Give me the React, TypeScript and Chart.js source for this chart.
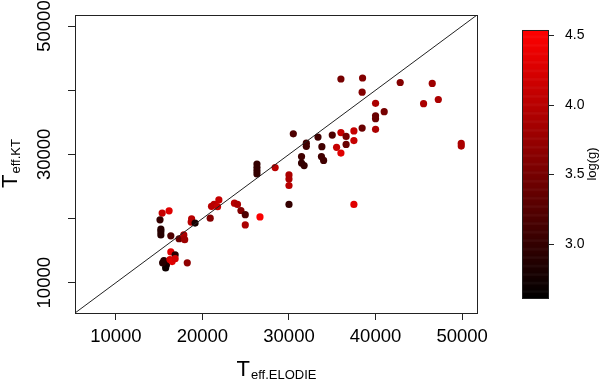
import { useEffect, useRef } from "react";
import { Chart, registerables } from "chart.js";

Chart.register(...registerables);

// ---------- data ----------
const AXIS_MIN = 5280;
const AXIS_MAX = 51720;
const X_TICKS = [10000, 20000, 30000, 40000, 50000];
const Y_TICKS = [10000, 20000, 30000, 40000, 50000];
const Y_TICK_LABELS = ["10000", "", "30000", "", "50000"];
const CBAR_TICKS = [3.0, 3.5, 4.0, 4.5];
const LOGG_MIN = 2.61;
const LOGG_MAX = 4.536;
const CBAR_SCALE_MIN = 2.505;
const CBAR_SCALE_MAX = 4.6435;

const X_TITLE_MAIN = "T";
const X_TITLE_SUB = "eff.ELODIE";
const Y_TITLE_MAIN = "T";
const Y_TITLE_SUB = "eff.KT";
const CBAR_TITLE = "log(g)";

const T_ELODIE = [
  36000, 38500, 38450, 42850, 46550, 45550, 47250, 40000, 41000, 40000,
  40000, 38450, 40000, 37500, 36000, 35000, 36600, 33350, 30500, 32000,
  32000, 33800, 36600, 37500, 35500, 36000, 49900, 49900, 31450, 31450,
  31750, 33750, 34000, 26300, 26300, 26300, 26300, 28400, 30000, 30000,
  30000, 30000, 37500, 26650, 23700, 24050, 24450, 24950, 24950, 20900,
  21050, 21350, 21900, 21750, 18750, 18700, 19150, 15350, 16150, 15100,
  15200, 15200, 15200, 16350, 17300, 17850, 17950, 16350, 16850, 15550,
  15850, 15750, 16250, 16500, 16850, 18250, 15400,
];
const T_KT = [
  41750, 41900, 39700, 41200, 41050, 37900, 38550, 37950, 36650, 36000,
  35550, 34100, 33900, 33650, 33400, 33000, 32800, 32700, 33200, 31750,
  31250, 31200, 31550, 32150, 31100, 30200, 31700, 31300, 29650, 28650,
  28250, 29650, 29050, 28500, 27950, 27450, 26950, 27950, 26800, 26150,
  25150, 22200, 22200, 20250, 22400, 22200, 21250, 20600, 19000, 20050,
  21900, 22200, 22900, 21850, 19950, 19450, 19300, 20850, 21200, 19800,
  18350, 17950, 17450, 17300, 16850, 17450, 16700, 14800, 14350, 13450,
  12800, 12300, 13600, 13300, 13750, 13100, 13100,
];
const LOGG = [
  3.5, 3.6, 3.6, 3.6, 3.8, 3.9, 3.9, 3.9, 3.5, 3.4,
  3.4, 3.4, 3.9, 4.1, 4.1, 3.2, 3.5, 3.1, 3.2, 3.1,
  3.1, 3.1, 3.4, 4.1, 4.1, 4.3, 3.9, 3.9, 3.1, 3.0,
  3.0, 3.1, 3.1, 3.0, 3.0, 3.0, 3.0, 4.0, 3.9, 3.9,
  4.0, 3.0, 4.3, 4.5, 4.0, 3.9, 3.6, 3.2, 3.9, 3.6,
  4.0, 4.0, 4.1, 4.1, 4.0, 4.0, 2.8, 4.1, 4.3, 3.0,
  2.9, 2.9, 2.9, 3.2, 3.4, 3.9, 3.8, 4.3, 2.9, 2.9,
  2.8, 2.7, 4.2, 4.3, 4.2, 3.7, 2.9,
];

const FONT = "'Liberation Sans', Arial, Helvetica, sans-serif";

function loggColor(v: number): string {
  let t = (v - LOGG_MIN) / (LOGG_MAX - LOGG_MIN);
  t = Math.max(0, Math.min(1, t));
  return `rgb(${Math.round(255 * t)},0,0)`;
}

function noPad(s: any) {
  s.paddingTop = 0;
  s.paddingBottom = 0;
  s.paddingLeft = 0;
  s.paddingRight = 0;
}

const decorPlugin = {
  id: "decor",
  afterDraw(chart: any) {
    const { ctx, chartArea: ca, scales } = chart;
    ctx.save();
    // plot box
    ctx.strokeStyle = "#222";
    ctx.lineWidth = 1;
    ctx.strokeRect(ca.left + 0.5, ca.top + 0.5, ca.right - ca.left, ca.bottom - ca.top);

    // colour bar
    const c = scales.c;
    const x0 = Math.round(c.left) + 45;
    const w = 26;
    const steps = 300;
    for (let i = 0; i < steps; i++) {
      const v0 = LOGG_MIN + ((LOGG_MAX - LOGG_MIN) * i) / steps;
      const v1 = LOGG_MIN + ((LOGG_MAX - LOGG_MIN) * (i + 1)) / steps;
      const yTop = c.getPixelForValue(v1);
      const yBot = c.getPixelForValue(v0);
      ctx.fillStyle = loggColor((v0 + v1) / 2);
      ctx.fillRect(x0, yTop, w, yBot - yTop + 0.6);
    }
    const yTopBar = Math.round(c.getPixelForValue(LOGG_MAX));
    const yBotBar = Math.round(c.getPixelForValue(LOGG_MIN));
    ctx.strokeStyle = "#222";
    ctx.strokeRect(x0 + 0.5, yTopBar + 0.5, w, yBotBar - yTopBar);
    ctx.beginPath();
    for (const v of CBAR_TICKS) {
      const y = Math.round(c.getPixelForValue(v)) + 0.5;
      ctx.moveTo(x0 + w, y);
      ctx.lineTo(x0 + w + 6, y);
    }
    ctx.stroke();

    // colour bar title
    ctx.fillStyle = "#000";
    ctx.font = `13px ${FONT}`;
    ctx.textAlign = "center";
    ctx.textBaseline = "middle";
    ctx.translate(592, (yTopBar + yBotBar) / 2);
    ctx.rotate(-Math.PI / 2);
    ctx.fillText(CBAR_TITLE, 0, 0);
    ctx.setTransform(1, 0, 0, 1, 0, 0);

    // axis titles
    const mainFont = `22px ${FONT}`;
    const subFont = `13px ${FONT}`;
    ctx.textAlign = "left";
    ctx.textBaseline = "alphabetic";
    ctx.font = mainFont;
    const mw = ctx.measureText(X_TITLE_MAIN).width;
    ctx.font = subFont;
    const sw = ctx.measureText(X_TITLE_SUB).width;
    const cx = (ca.left + ca.right) / 2;
    let sx = cx - (mw + sw) / 2;
    ctx.font = mainFont;
    ctx.fillText(X_TITLE_MAIN, sx, 376);
    ctx.font = subFont;
    ctx.fillText(X_TITLE_SUB, sx + mw + 1, 379);

    ctx.font = mainFont;
    const mw2 = ctx.measureText(Y_TITLE_MAIN).width;
    ctx.font = subFont;
    const sw2 = ctx.measureText(Y_TITLE_SUB).width;
    const cy = (ca.top + ca.bottom) / 2;
    ctx.translate(0, cy);
    ctx.rotate(-Math.PI / 2);
    sx = -(mw2 + sw2) / 2;
    ctx.font = mainFont;
    ctx.fillText(Y_TITLE_MAIN, sx, 17);
    ctx.font = subFont;
    ctx.fillText(Y_TITLE_SUB, sx + mw2 + 1, 20);
    ctx.restore();
  },
};

export default function App() {
  const ref = useRef<HTMLCanvasElement | null>(null);

  useEffect(() => {
    if (!ref.current) return;
    const points = T_ELODIE.map((x, i) => ({ x, y: T_KT[i] }));
    const chart = new Chart(ref.current, {
      type: "scatter",
      data: {
        datasets: [
          {
            data: [
              { x: AXIS_MIN, y: AXIS_MIN },
              { x: AXIS_MAX, y: AXIS_MAX },
            ],
            showLine: true,
            borderColor: "#222",
            borderWidth: 1,
            pointRadius: 0,
            xAxisID: "x",
            yAxisID: "y",
          },
          {
            data: points,
            pointRadius: 3.6,
            pointBorderWidth: 0,
            pointBorderColor: "rgba(0,0,0,0)",
            pointBackgroundColor: LOGG.map(loggColor),
            backgroundColor: LOGG.map(loggColor),
            xAxisID: "x",
            yAxisID: "y",
          },
        ],
      },
      options: {
        animation: false,
        responsive: false,
        events: [],
        layout: { padding: { top: 15, left: 0, right: 0, bottom: 0 } },
        plugins: { legend: { display: false }, tooltip: { enabled: false } },
        scales: {
          x: {
            type: "linear",
            position: "bottom",
            min: AXIS_MIN,
            max: AXIS_MAX,
            afterBuildTicks: (s: any) => {
              s.ticks = X_TICKS.map((v) => ({ value: v }));
            },
            afterFit: (s: any) => {
              s.height = 67;
              noPad(s);
            },
            grid: { drawOnChartArea: false, drawTicks: true, tickLength: 7, color: "#222" },
            border: { display: false },
            ticks: {
              autoSkip: false,
              maxRotation: 0,
              padding: 6,
              color: "#000",
              font: { family: FONT, size: 18.5 },
              callback: (v: any) => String(v),
            },
          },
          y: {
            type: "linear",
            position: "left",
            min: AXIS_MIN,
            max: AXIS_MAX,
            afterBuildTicks: (s: any) => {
              s.ticks = Y_TICKS.map((v) => ({ value: v }));
            },
            afterFit: (s: any) => {
              s.width = 75;
              noPad(s);
            },
            grid: { drawOnChartArea: false, drawTicks: true, tickLength: 7, color: "#222" },
            border: { display: false },
            ticks: {
              autoSkip: false,
              minRotation: 90,
              maxRotation: 90,
              crossAlign: "center",
              padding: -3,
              color: "#000",
              font: { family: FONT, size: 18.5 },
              callback: (v: any) => Y_TICK_LABELS[Y_TICKS.indexOf(Number(v))] ?? "",
            },
          },
          c: {
            type: "linear",
            position: "right",
            min: CBAR_SCALE_MIN,
            max: CBAR_SCALE_MAX,
            afterBuildTicks: (s: any) => {
              s.ticks = CBAR_TICKS.map((v) => ({ value: v }));
            },
            afterFit: (s: any) => {
              s.width = 123;
              noPad(s);
            },
            grid: { display: false, drawTicks: false },
            border: { display: false },
            ticks: {
              autoSkip: false,
              padding: 88,
              color: "#000",
              font: { family: FONT, size: 14 },
              callback: (v: any) => Number(v).toFixed(1),
            },
          },
        },
      },
      plugins: [decorPlugin],
    } as any);
    return () => chart.destroy();
  }, []);

  return (
    <div style={{ position: "absolute", left: 0, top: 0, width: 600, height: 380, background: "#fff" }}>
      <canvas ref={ref} width={600} height={380} style={{ display: "block" }} />
    </div>
  );
}
